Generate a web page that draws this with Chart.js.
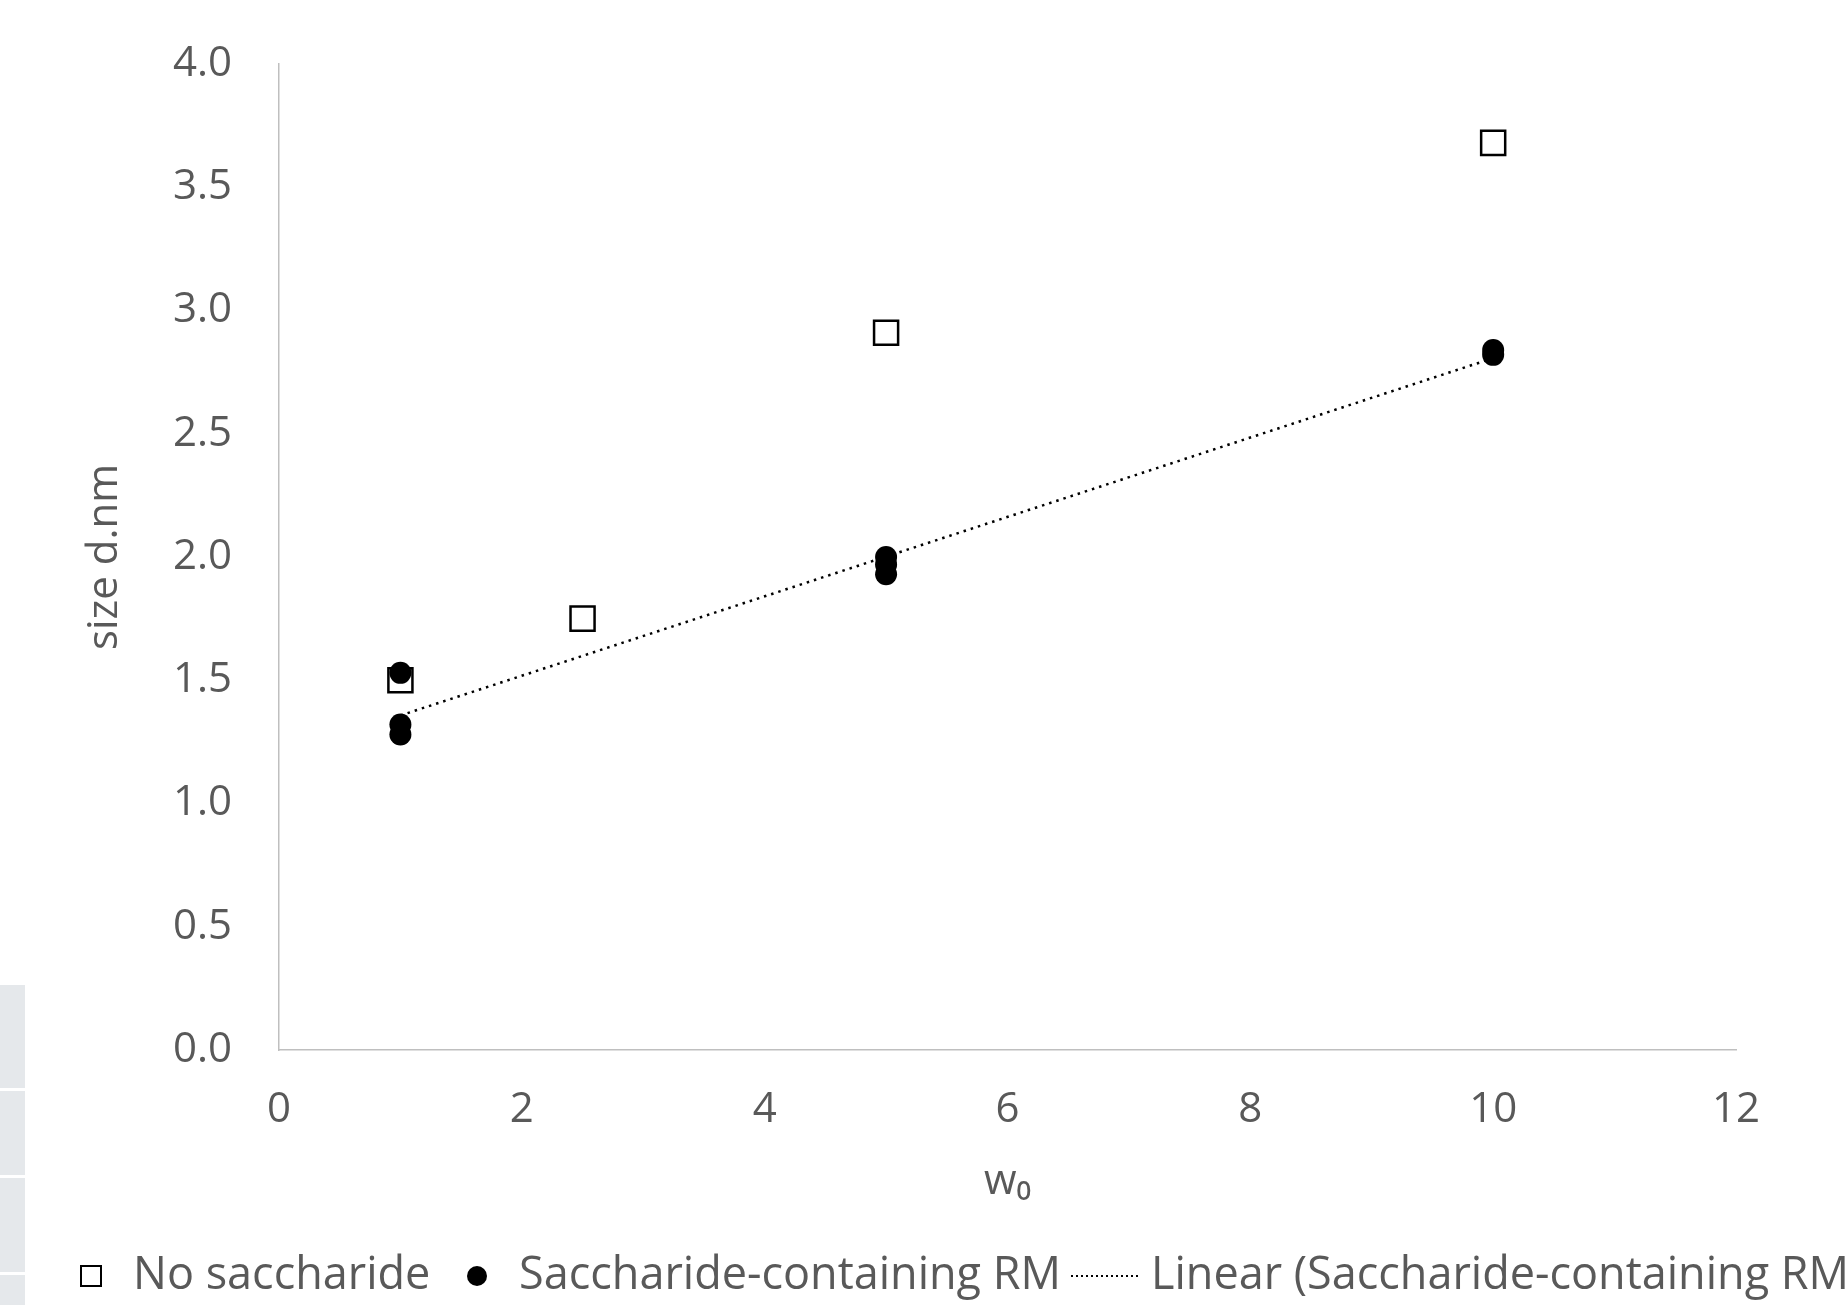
<!DOCTYPE html>
<html>
<head>
<meta charset="utf-8">
<script src="https://cdn.jsdelivr.net/npm/chart.js@4.4.1/dist/chart.umd.min.js"></script>
<style>
    body { margin: 0; background: #fff; overflow: hidden; }
    #wrap { position: relative; width: 1845px; height: 1305px; }
    .side { position: absolute; left: 0; width: 25px; background: #e5e8eb; }
</style>
</head>
<body>
<div id="wrap">
    <canvas id="sizeChart"></canvas>
    <div class="side" style="top:985px;height:103px"></div>
    <div class="side" style="top:1091px;height:84px"></div>
    <div class="side" style="top:1178px;height:94px"></div>
    <div class="side" style="top:1275px;height:30px"></div>
</div>
<script>
    // Дані
    const noSacX = [1, 2.5, 5, 10];
    const noSacY = [1.50, 1.75, 2.91, 3.68];
    const sacX = [1, 1, 1, 5, 5, 5, 10, 10];
    const sacY = [1.53, 1.32, 1.28, 2.00, 1.97, 1.93, 2.84, 2.82];
    const xTicks = [0, 2, 4, 6, 8, 10, 12];
    const yTicks = [0, 0.5, 1, 1.5, 2, 2.5, 3, 3.5, 4];
    const legendLabels = ['No saccharide', 'Saccharide-containing RM', 'Linear (Saccharide-containing RM)'];

    const FONT = "'Open Sans', sans-serif";
    const TEXT = '#595959';

    // лінійний тренд (найменші квадрати)
    const n = sacX.length;
    const mx = sacX.reduce((a, b) => a + b, 0) / n;
    const my = sacY.reduce((a, b) => a + b, 0) / n;
    let sxy = 0, sxx = 0;
    for (let i = 0; i < n; i++) {
        sxy += (sacX[i] - mx) * (sacY[i] - my);
        sxx += (sacX[i] - mx) * (sacX[i] - mx);
    }
    const slope = sxy / sxx;
    const icpt = my - slope * mx;
    const xMin = Math.min(...sacX), xMax = Math.max(...sacX);
    const trend = [{x: xMin, y: icpt + slope * xMin}, {x: xMax, y: icpt + slope * xMax}];

    // легенда внизу (обрізана правим краєм, як на оригіналі)
    const legendPlugin = {
        id: 'bottomLegend',
        afterDraw(chart) {
            const c = chart.ctx;
            const y = 1276;
            c.save();
            c.font = '45px ' + FONT;
            c.fillStyle = TEXT;
            c.textBaseline = 'middle';

            c.strokeStyle = '#000';
            c.lineWidth = 2;
            c.strokeRect(81, y - 10, 20, 20);
            c.fillText(legendLabels[0], 133, y);

            c.fillStyle = '#000';
            c.beginPath();
            c.arc(477, y, 10, 0, Math.PI * 2);
            c.fill();
            c.fillStyle = TEXT;
            c.fillText(legendLabels[1], 519, y);

            c.setLineDash([2, 3]);
            c.lineWidth = 2;
            c.beginPath();
            c.moveTo(1071, y);
            c.lineTo(1141, y);
            c.stroke();
            c.setLineDash([]);
            c.fillText(legendLabels[2], 1151, y);
            c.restore();
        }
    };

    const config = {
        type: 'scatter',
        data: {
            datasets: [
                {
                    label: legendLabels[0],
                    data: noSacX.map((x, i) => ({x: x, y: noSacY[i]})),
                    pointStyle: 'rect',
                    pointRadius: 17,
                    pointBorderWidth: 2.5,
                    pointBorderColor: '#000',
                    pointBackgroundColor: '#fff',
                    order: 2
                },
                {
                    label: legendLabels[1],
                    data: sacX.map((x, i) => ({x: x, y: sacY[i]})),
                    pointStyle: 'circle',
                    pointRadius: 11,
                    pointBorderWidth: 0,
                    pointBackgroundColor: '#000',
                    order: 1
                },
                {
                    type: 'line',
                    label: legendLabels[2],
                    data: trend,
                    borderColor: '#000',
                    borderWidth: 2.5,
                    borderDash: [2.5, 5],
                    pointRadius: 0,
                    fill: false,
                    order: 3
                }
            ]
        },
        options: {
            responsive: true,
            maintainAspectRatio: false,
            animation: false,
            layout: { padding: { left: 0, top: 64, right: 109, bottom: 90 } },
            plugins: {
                legend: { display: false },
                tooltip: { enabled: false }
            },
            scales: {
                x: {
                    type: 'linear',
                    min: 0, max: 12,
                    afterBuildTicks: s => { s.ticks = xTicks.map(v => ({value: v})); },
                    afterFit: s => { s.height = 165; s.paddingLeft = 0; s.paddingRight = 0; },
                    grid: { display: true, drawOnChartArea: false, drawTicks: false },
                    border: { display: true, color: '#bfbfbf', width: 1.5 },
                    ticks: { color: TEXT, font: { family: FONT, size: 42 }, padding: 35 },
                    title: { display: true, text: 'w₀', color: TEXT, font: { family: FONT, size: 42 }, padding: { top: 0, bottom: 8 } }
                },
                y: {
                    type: 'linear',
                    min: 0, max: 4,
                    afterBuildTicks: s => { s.ticks = yTicks.map(v => ({value: v})); },
                    afterFit: s => { s.width = 279; s.paddingTop = 0; s.paddingBottom = 0; },
                    grid: { display: true, drawOnChartArea: false, drawTicks: false },
                    border: { display: true, color: '#bfbfbf', width: 1.5 },
                    ticks: { color: TEXT, font: { family: FONT, size: 42 }, padding: 47, callback: v => v.toFixed(1) },
                    title: { display: true, text: 'size d.nm', color: TEXT, font: { family: FONT, size: 42 }, padding: { top: 80, bottom: 0 } }
                }
            }
        },
        plugins: [legendPlugin]
    };

    new Chart(document.getElementById('sizeChart').getContext('2d'), config);
</script>
</body>
</html>
